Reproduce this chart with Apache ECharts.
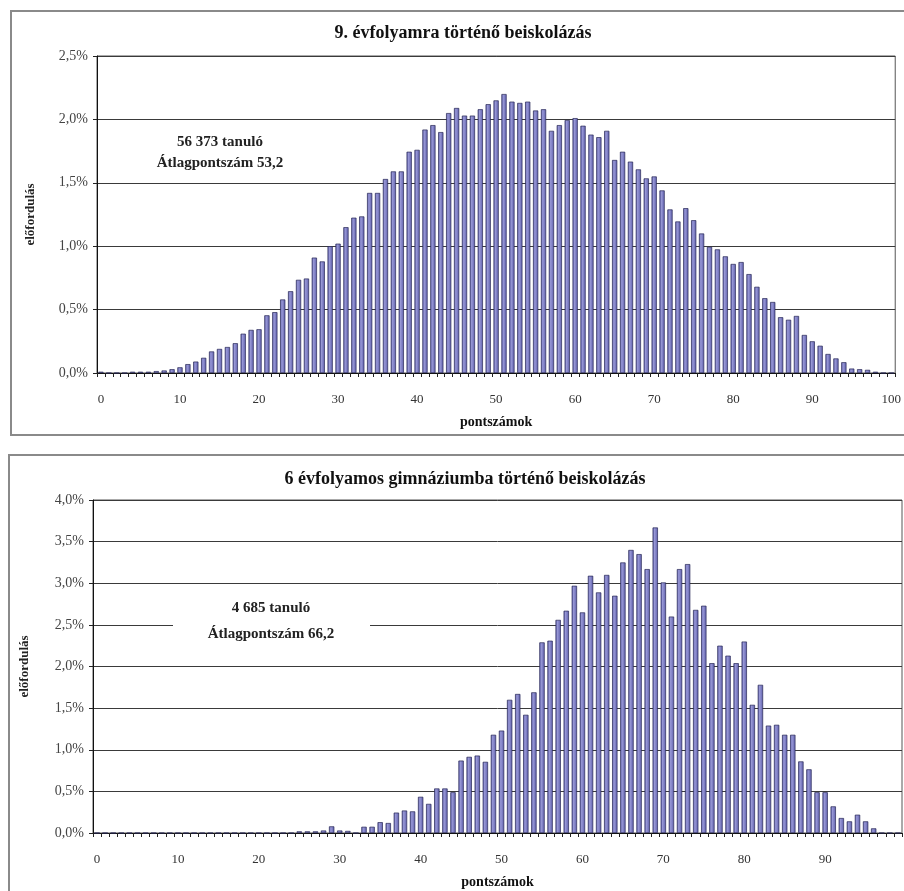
<!DOCTYPE html>
<html>
<head>
<meta charset="utf-8">
<script src="https://cdn.jsdelivr.net/npm/echarts@6/dist/echarts.min.js"></script>
<style>
html,body{margin:0;padding:0;background:#fff;}
#c{width:904px;height:891px;}
</style>
</head>
<body>
<div id="c"></div>
<script>
// ---- data ----
const titleTop = '9. évfolyamra történő beiskolázás';
const titleBottom = '6 évfolyamos gimnáziumba történő beiskolázás';
const noteTop = ['56 373 tanuló', 'Átlagpontszám 53,2'];
const noteBottom = ['4 685 tanuló', 'Átlagpontszám 66,2'];
const yName = 'előfordulás';
const xName = 'pontszámok';

const categoriesTop = [0,1,2,3,4,5,6,7,8,9,10,11,12,13,14,15,16,17,18,19,20,21,22,23,24,25,26,27,28,29,30,31,32,33,34,35,36,37,38,39,40,41,42,43,44,45,46,47,48,49,50,51,52,53,54,55,56,57,58,59,60,61,62,63,64,65,66,67,68,69,70,71,72,73,74,75,76,77,78,79,80,81,82,83,84,85,86,87,88,89,90,91,92,93,94,95,96,97,98,99,100];
const valuesTop = [
  0.01,0,0,0,0.01,0.01,0.01,0.015,0.02,0.03,
  0.045,0.07,0.09,0.12,0.17,0.19,0.205,0.235,0.31,0.34,
  0.345,0.455,0.48,0.58,0.645,0.735,0.745,0.91,0.88,1.0,
  1.02,1.15,1.225,1.235,1.42,1.42,1.53,1.59,1.59,1.745,
  1.76,1.92,1.955,1.9,2.05,2.09,2.03,2.03,2.08,2.12,
  2.15,2.2,2.14,2.13,2.14,2.07,2.08,1.91,1.955,1.995,
  2.01,1.95,1.88,1.86,1.91,1.68,1.745,1.667,1.606,1.535,
  1.55,1.44,1.29,1.195,1.3,1.205,1.1,0.995,0.975,0.92,
  0.86,0.875,0.78,0.68,0.59,0.56,0.44,0.42,0.45,0.3,
  0.25,0.215,0.15,0.115,0.085,0.035,0.03,0.025,0.01,0,
  0
];
const categoriesBottom = [0,1,2,3,4,5,6,7,8,9,10,11,12,13,14,15,16,17,18,19,20,21,22,23,24,25,26,27,28,29,30,31,32,33,34,35,36,37,38,39,40,41,42,43,44,45,46,47,48,49,50,51,52,53,54,55,56,57,58,59,60,61,62,63,64,65,66,67,68,69,70,71,72,73,74,75,76,77,78,79,80,81,82,83,84,85,86,87,88,89,90,91,92,93,94,95,96,97,98,99];
const valuesBottom = [
  0,0,0,0,0,0,0,0,0,0,
  0,0,0,0,0,0,0,0,0,0,
  0,0,0,0,0,0.02,0.02,0.02,0.03,0.08,
  0.03,0.025,0,0.075,0.075,0.13,0.12,0.245,0.27,0.26,
  0.435,0.35,0.535,0.535,0.49,0.87,0.915,0.93,0.855,1.18,
  1.23,1.6,1.67,1.42,1.69,2.29,2.31,2.56,2.67,2.97,
  2.65,3.09,2.89,3.1,2.85,3.25,3.4,3.35,3.17,3.67,
  3.01,2.6,3.17,3.23,2.68,2.73,2.04,2.25,2.13,2.04,
  2.3,1.54,1.78,1.29,1.3,1.18,1.18,0.86,0.765,0.49,
  0.49,0.32,0.18,0.14,0.22,0.14,0.056,0,0,0
];
const yTicksTop = ['0,0%','0,5%','1,0%','1,5%','2,0%','2,5%'];
const yTicksBottom = ['0,0%','0,5%','1,0%','1,5%','2,0%','2,5%','3,0%','3,5%','4,0%'];

// ---- chart ----
const FONT = '"Liberation Serif", "DejaVu Serif", serif';
const chart = echarts.init(document.getElementById('c'), null, {renderer: 'canvas'});

const barStyle = {
  color: new echarts.graphic.LinearGradient(0, 0, 1, 0, [
    {offset: 0, color: '#5656a6'},
    {offset: 0.35, color: '#9898d6'},
    {offset: 1, color: '#5e5eac'}
  ]),
  borderColor: '#282856',
  borderWidth: 0.7
};

function xAxisCfg(gridIndex, cats) {
  return {
    type: 'category', gridIndex: gridIndex, data: cats,
    boundaryGap: true,
    axisLine: {show: true, lineStyle: {color: '#111', width: 1}},
    axisTick: {show: true, interval: 0, length: 4, inside: false, lineStyle: {color: '#222'}},
    axisLabel: {interval: 9, color: '#333', fontFamily: FONT, fontSize: 13, margin: 20},
    splitLine: {show: false},
    name: xName, nameLocation: 'middle', nameGap: 42,
    nameTextStyle: {fontFamily: FONT, fontWeight: 'bold', fontSize: 14, color: '#111'}
  };
}
function yAxisCfg(gridIndex, max, ticks, gap) {
  return {
    type: 'value', gridIndex: gridIndex, min: 0, max: max, interval: 0.5,
    axisLine: {show: true, lineStyle: {color: '#111', width: 1}},
    axisTick: {show: true, length: 4, lineStyle: {color: '#222'}},
    axisLabel: {color: '#444', fontFamily: FONT, fontSize: 14, margin: 9,
      formatter: function (v) { return ticks[Math.round(v / 0.5)]; }},
    splitLine: {show: true, lineStyle: {color: '#3a3a3a', width: 1}},
    name: yName, nameLocation: 'middle', nameGap: gap, nameRotate: 90,
    nameTextStyle: {fontFamily: FONT, fontWeight: 'bold', fontSize: 13, color: '#222'}
  };
}

chart.setOption({
  animation: false,
  backgroundColor: '#fff',
  title: [
    {text: titleTop, left: 458, top: 19, textAlign: 'center',
     textStyle: {fontFamily: FONT, fontWeight: 'bold', fontSize: 18, color: '#111'}},
    {text: titleBottom, left: 460, top: 465, textAlign: 'center',
     textStyle: {fontFamily: FONT, fontWeight: 'bold', fontSize: 18, color: '#111'}}
  ],
  grid: [
    {left: 97, right: 4, top: 56, height: 317, show: true, borderColor: '#555', borderWidth: 1, backgroundColor: 'transparent'},
    {left: 93, right: 2, top: 500, height: 333, show: true, borderColor: '#555', borderWidth: 1, backgroundColor: 'transparent'}
  ],
  xAxis: [xAxisCfg(0, categoriesTop), xAxisCfg(1, categoriesBottom)],
  yAxis: [yAxisCfg(0, 2.5, yTicksTop, 60), yAxisCfg(1, 4.0, yTicksBottom, 62)],
  series: [
    {type: 'bar', xAxisIndex: 0, yAxisIndex: 0, data: valuesTop, barCategoryGap: '34%', itemStyle: barStyle, silent: true},
    {type: 'bar', xAxisIndex: 1, yAxisIndex: 1, data: valuesBottom, barCategoryGap: '34%', itemStyle: barStyle, silent: true}
  ],
  graphic: [
    {type: 'rect', shape: {x: 11, y: 11, width: 900, height: 424}, style: {fill: 'none', stroke: '#8a8a8a', lineWidth: 2}, z: 100},
    {type: 'rect', shape: {x: 9, y: 455, width: 900, height: 450}, style: {fill: 'none', stroke: '#8a8a8a', lineWidth: 2}, z: 100},
    {type: 'text', x: 220, y: 132, z: 100,
     style: {text: noteTop[0] + '\n' + noteTop[1], font: 'bold 15px ' + FONT, fill: '#222', textAlign: 'center', textVerticalAlign: 'top', lineHeight: 21}},
    {type: 'rect', shape: {x: 173, y: 594, width: 197, height: 50}, style: {fill: '#fff'}, z: 90},
    {type: 'text', x: 271, y: 595, z: 100,
     style: {text: noteBottom[0] + '\n' + noteBottom[1], font: 'bold 15px ' + FONT, fill: '#222', textAlign: 'center', textVerticalAlign: 'top', lineHeight: 26}}
  ]
});
</script>
</body>
</html>
